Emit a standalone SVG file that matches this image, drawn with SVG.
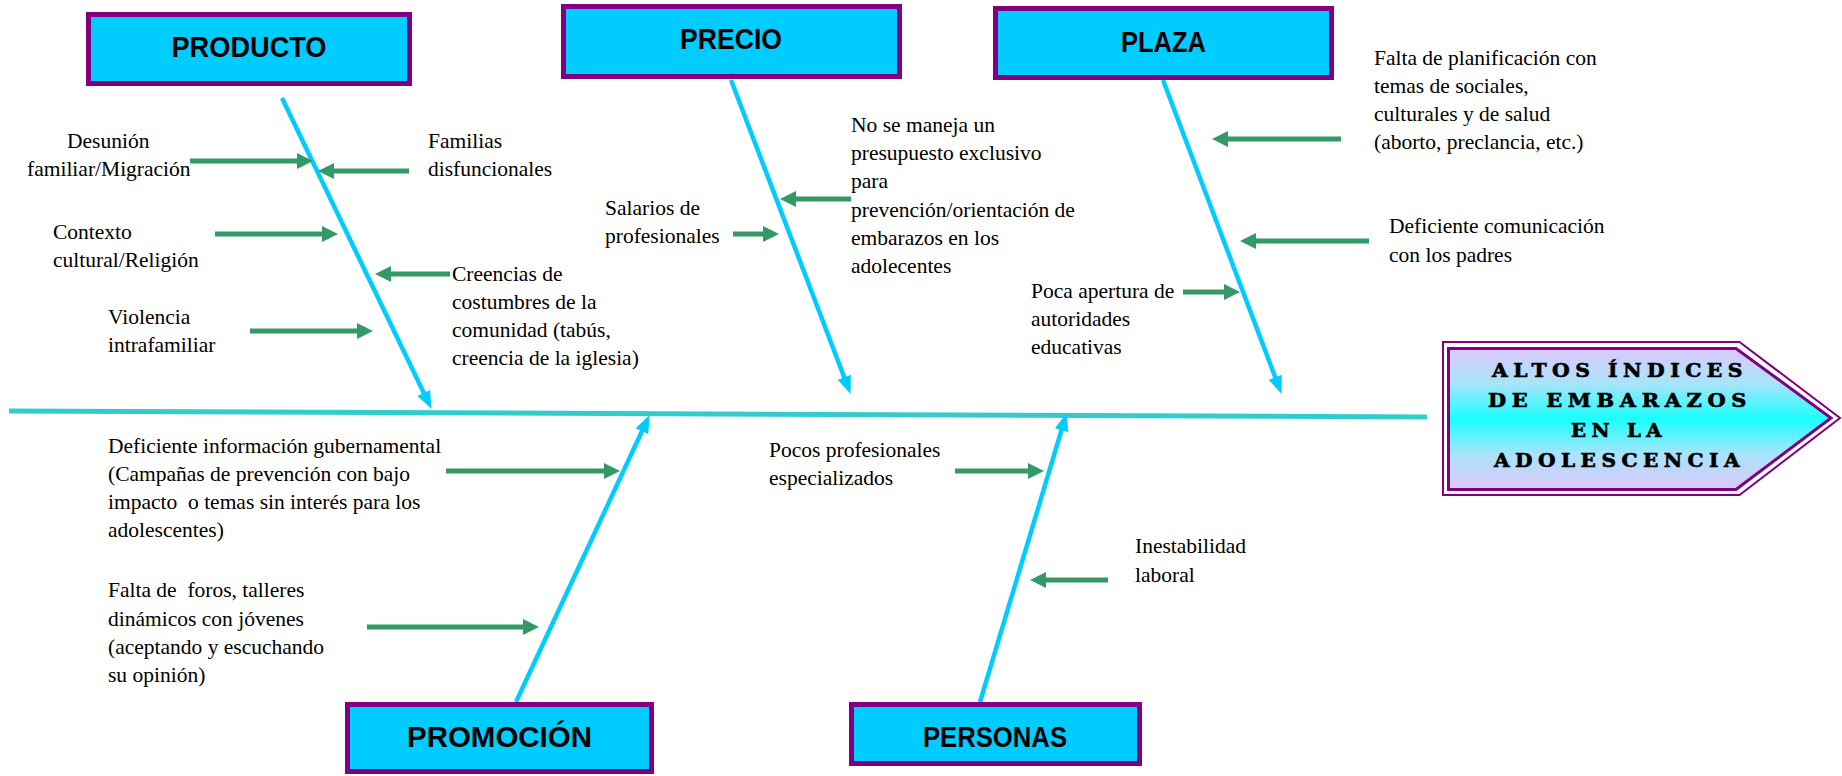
<svg xmlns="http://www.w3.org/2000/svg" width="1842" height="776" viewBox="0 0 1842 776">
  <defs>
    <style>
      .box { fill: #00CCFF; stroke: #800080; stroke-width: 5; }
      .title { font-family: "Liberation Sans", Arial, sans-serif; font-weight: bold; font-size: 29px; fill: #000; text-anchor: middle; }
      .lbl { font-family: "Liberation Serif", "Times New Roman", serif; font-size: 21.5px; fill: #000; white-space: pre; }
      .bone { stroke: #00CCFF; stroke-width: 4.5; fill: none; }
      .spine { stroke: #33CCCC; stroke-width: 5; fill: none; }
      .cause { stroke: #339966; stroke-width: 5; fill: none; }
      .eff { font-family: "DejaVu Serif", "Liberation Serif", serif; font-weight: bold; font-size: 18.5px; fill: #000; stroke: #000; stroke-width: 0.6; letter-spacing: 5px; }
    </style>
    <marker id="bhead" markerUnits="userSpaceOnUse" markerWidth="20" markerHeight="16" viewBox="0 -8 20 16" refX="1" refY="0" orient="auto">
      <path d="M0,-7 L18,0 L0,7 z" fill="#00CCFF"/>
    </marker>
    <marker id="ghead" markerUnits="userSpaceOnUse" markerWidth="18" markerHeight="18" viewBox="0 -9 18 18" refX="1" refY="0" orient="auto">
      <path d="M0,-8 L16,0 L0,8 z" fill="#339966"/>
    </marker>
    <linearGradient id="effgrad" x1="0" y1="0" x2="0" y2="1">
      <stop offset="0" stop-color="#DCC8FA"/>
      <stop offset="0.25" stop-color="#A8E4FA"/>
      <stop offset="0.5" stop-color="#1AFFFF"/>
      <stop offset="0.75" stop-color="#A8E4FA"/>
      <stop offset="1" stop-color="#DCC8FA"/>
    </linearGradient>
  </defs>
  <rect width="1842" height="776" fill="#FFFFFF"/>

  <g id="connectors">
    <line class="spine" x1="9" y1="411" x2="1427" y2="417"/>
    <line class="bone" x1="282" y1="98" x2="424.2" y2="393.8" marker-end="url(#bhead)"/>
    <line class="bone" x1="731" y1="80" x2="844.6" y2="378.2" marker-end="url(#bhead)"/>
    <line class="bone" x1="1163" y1="80" x2="1275.6" y2="378.2" marker-end="url(#bhead)"/>
    <line class="bone" x1="516" y1="702" x2="642.4" y2="430.3" marker-end="url(#bhead)"/>
    <line class="bone" x1="980" y1="702" x2="1061.8" y2="429.2" marker-end="url(#bhead)"/>

    <line class="cause" x1="190" y1="161" x2="298" y2="161" marker-end="url(#ghead)"/>
    <line class="cause" x1="409" y1="171" x2="333" y2="171" marker-end="url(#ghead)"/>
    <line class="cause" x1="215" y1="234" x2="323" y2="234" marker-end="url(#ghead)"/>
    <line class="cause" x1="450" y1="274" x2="390" y2="274" marker-end="url(#ghead)"/>
    <line class="cause" x1="250" y1="331" x2="358" y2="331" marker-end="url(#ghead)"/>
    <line class="cause" x1="733" y1="234" x2="764" y2="234" marker-end="url(#ghead)"/>
    <line class="cause" x1="851" y1="199" x2="795" y2="199" marker-end="url(#ghead)"/>
    <line class="cause" x1="1341" y1="139" x2="1227" y2="139" marker-end="url(#ghead)"/>
    <line class="cause" x1="1369" y1="241" x2="1255" y2="241" marker-end="url(#ghead)"/>
    <line class="cause" x1="1183" y1="292" x2="1225" y2="292" marker-end="url(#ghead)"/>
    <line class="cause" x1="446" y1="471" x2="605" y2="471" marker-end="url(#ghead)"/>
    <line class="cause" x1="367" y1="627" x2="524" y2="627" marker-end="url(#ghead)"/>
    <line class="cause" x1="955" y1="471" x2="1029" y2="471" marker-end="url(#ghead)"/>
    <line class="cause" x1="1108" y1="580" x2="1045" y2="580" marker-end="url(#ghead)"/>
  </g>

  <g id="producto">
    <rect class="box" x="88.5" y="14.5" width="321" height="69"/>
    <text class="title" x="249" y="57" textLength="155" lengthAdjust="spacingAndGlyphs">PRODUCTO</text>
  </g>
  <g id="precio">
    <rect class="box" x="563.5" y="6.5" width="336" height="70"/>
    <text class="title" x="731" y="49" textLength="102" lengthAdjust="spacingAndGlyphs">PRECIO</text>
  </g>
  <g id="plaza">
    <rect class="box" x="995.5" y="8.5" width="336" height="69"/>
    <text class="title" x="1163.5" y="52" textLength="85" lengthAdjust="spacingAndGlyphs">PLAZA</text>
  </g>
  <g id="promocion">
    <rect class="box" x="347.5" y="704.5" width="304" height="67"/>
    <text class="title" x="499.5" y="747" textLength="185" lengthAdjust="spacingAndGlyphs">PROMOCIÓN</text>
  </g>
  <g id="personas">
    <rect class="box" x="851.5" y="704.5" width="288" height="59"/>
    <text class="title" x="995" y="747" textLength="144" lengthAdjust="spacingAndGlyphs">PERSONAS</text>
  </g>

  <g id="efecto">
    <polygon points="1443,342 1739.5,342 1840,418 1739.5,495 1443,495" fill="#FFFFFF" stroke="#800080" stroke-width="2"/>
    <polygon points="1448.5,348.5 1736,348.5 1831,418 1736,489.5 1448.5,489.5" fill="url(#effgrad)" stroke="#800080" stroke-width="3"/>
    <text class="eff" x="1492" y="377" textLength="256" lengthAdjust="spacingAndGlyphs">ALTOS ÍNDICES</text>
    <text class="eff" x="1488" y="407" textLength="264" lengthAdjust="spacingAndGlyphs">DE EMBARAZOS</text>
    <text class="eff" x="1571" y="437" textLength="96" lengthAdjust="spacingAndGlyphs">EN LA</text>
    <text class="eff" x="1494" y="467" textLength="251" lengthAdjust="spacingAndGlyphs">ADOLESCENCIA</text>
  </g>

  <g id="c-desunion"><text class="lbl"><tspan x="67" y="148">Desunión</tspan><tspan x="27" y="176">familiar/Migración</tspan></text></g>
  <g id="c-familias"><text class="lbl"><tspan x="428" y="148">Familias</tspan><tspan x="428" y="176">disfuncionales</tspan></text></g>
  <g id="c-contexto"><text class="lbl"><tspan x="53" y="239">Contexto</tspan><tspan x="53" y="267">cultural/Religión</tspan></text></g>
  <g id="c-creencias"><text class="lbl"><tspan x="452" y="281">Creencias de</tspan><tspan x="452" y="309">costumbres de la</tspan><tspan x="452" y="337">comunidad (tabús,</tspan><tspan x="452" y="365">creencia de la iglesia)</tspan></text></g>
  <g id="c-violencia"><text class="lbl"><tspan x="108" y="324">Violencia</tspan><tspan x="108" y="352">intrafamiliar</tspan></text></g>
  <g id="c-salarios"><text class="lbl"><tspan x="605" y="215">Salarios de</tspan><tspan x="605" y="243">profesionales</tspan></text></g>
  <g id="c-presupuesto"><text class="lbl"><tspan x="851" y="132">No se maneja un</tspan><tspan x="851" y="160">presupuesto exclusivo</tspan><tspan x="851" y="188">para</tspan><tspan x="851" y="217">prevención/orientación de</tspan><tspan x="851" y="245">embarazos en los</tspan><tspan x="851" y="273">adolecentes</tspan></text></g>
  <g id="c-planificacion"><text class="lbl"><tspan x="1374" y="65">Falta de planificación con</tspan><tspan x="1374" y="93">temas de sociales,</tspan><tspan x="1374" y="121">culturales y de salud</tspan><tspan x="1374" y="149">(aborto, preclancia, etc.)</tspan></text></g>
  <g id="c-comunicacion"><text class="lbl"><tspan x="1389" y="233">Deficiente comunicación</tspan><tspan x="1389" y="262">con los padres</tspan></text></g>
  <g id="c-apertura"><text class="lbl"><tspan x="1031" y="298">Poca apertura de</tspan><tspan x="1031" y="326">autoridades</tspan><tspan x="1031" y="354">educativas</tspan></text></g>
  <g id="c-informacion"><text class="lbl"><tspan x="108" y="453">Deficiente información gubernamental</tspan><tspan x="108" y="481">(Campañas de prevención con bajo</tspan><tspan x="108" y="509">impacto  o temas sin interés para los</tspan><tspan x="108" y="537">adolescentes)</tspan></text></g>
  <g id="c-foros"><text class="lbl"><tspan x="108" y="597">Falta de  foros, talleres</tspan><tspan x="108" y="626">dinámicos con jóvenes</tspan><tspan x="108" y="654">(aceptando y escuchando</tspan><tspan x="108" y="682">su opinión)</tspan></text></g>
  <g id="c-pocos"><text class="lbl"><tspan x="769" y="457">Pocos profesionales</tspan><tspan x="769" y="485">especializados</tspan></text></g>
  <g id="c-inestabilidad"><text class="lbl"><tspan x="1135" y="553">Inestabilidad</tspan><tspan x="1135" y="582">laboral</tspan></text></g>
</svg>
